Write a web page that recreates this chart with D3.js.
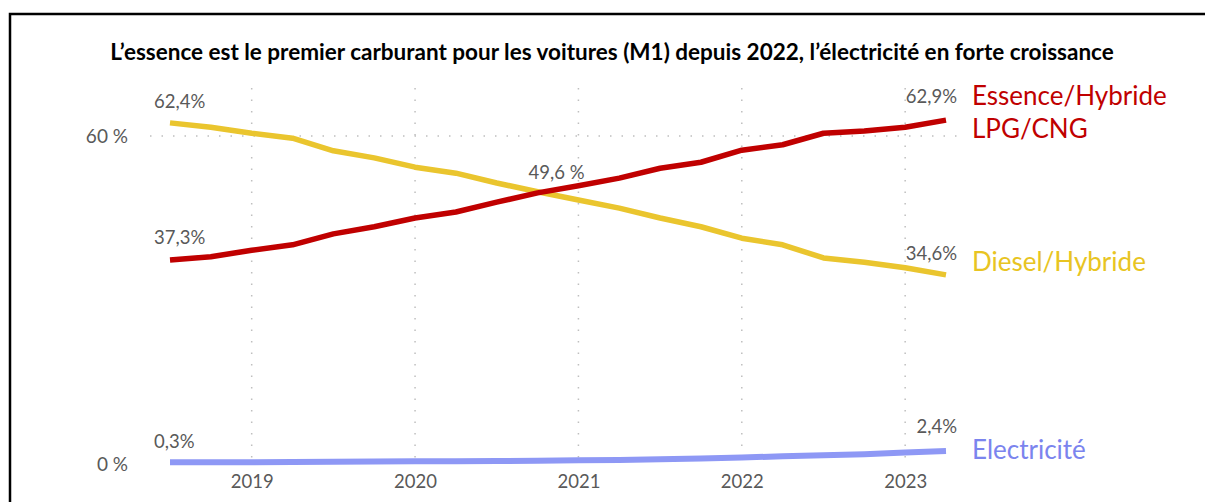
<!DOCTYPE html>
<html>
<head>
<meta charset="utf-8">
<script src="https://cdn.jsdelivr.net/npm/d3@7"></script>
<style>
  body { margin: 0; background: #fff; }
  svg { display: block; }
</style>
</head>
<body>
<svg id="chart"></svg>
<script>
// quarters, mid-2018 to mid-2023
const quarters = ['2018T3','2018T4','2019T1','2019T2','2019T3','2019T4','2020T1','2020T2','2020T3','2020T4',
                  '2021T1','2021T2','2021T3','2021T4','2022T1','2022T2','2022T3','2022T4','2023T1','2023T2'];
const essence = [37.3, 37.9, 39.1, 40.1, 42.1, 43.4, 45.0, 46.1, 47.9, 49.6, 50.9, 52.3, 54.1, 55.2, 57.4, 58.4, 60.5, 60.9, 61.6, 62.9];
const diesel  = [62.4, 61.6, 60.5, 59.6, 57.3, 56.0, 54.3, 53.2, 51.4, 49.8, 48.3, 46.8, 45.0, 43.4, 41.3, 40.1, 37.7, 36.9, 35.9, 34.6];
const electricite = [0.3, 0.3, 0.3, 0.35, 0.4, 0.45, 0.5, 0.5, 0.55, 0.6, 0.7, 0.75, 0.85, 1.0, 1.2, 1.4, 1.6, 1.8, 2.1, 2.4];
const yearTicks = ['2019T1','2020T1','2021T1','2022T1','2023T1'];
const yTicks = [0, 60];

const width = 1205;
const height = 502;
const font = 'Lato, "Open Sans", sans-serif';
const grey = '#595959';

const svg = d3.select('#chart')
  .attr('width', width)
  .attr('height', height)
  .style('font-family', font);

// frame
svg.append('rect')
  .attr('x', 10).attr('y', 14)
  .attr('width', 1400).attr('height', 700)
  .attr('fill', 'none')
  .attr('stroke', '#000')
  .attr('stroke-width', 2.5);

const x = d3.scalePoint()
  .domain(quarters)
  .range([170, 946]);

const y = d3.scaleLinear()
  .domain([0, 60])
  .range([464, 136]);

// vertical gridlines at years
svg.append('g')
  .selectAll('line')
  .data(yearTicks)
  .join('line')
  .attr('x1', d => x(d)).attr('x2', d => x(d))
  .attr('y1', 88).attr('y2', y(0) + 1)
  .attr('stroke', '#bfbfbf')
  .attr('stroke-width', 1.5)
  .attr('stroke-dasharray', '1.5,10');

// horizontal gridline at 60 %
svg.append('line')
  .attr('x1', 150).attr('x2', 960)
  .attr('y1', y(60)).attr('y2', y(60))
  .attr('stroke', '#bfbfbf')
  .attr('stroke-width', 1.5)
  .attr('stroke-dasharray', '1.5,10');

// y axis labels
const yAxis = svg.append('g')
  .attr('transform', 'translate(128,0)')
  .call(d3.axisLeft(y).tickValues(yTicks).tickSize(0).tickPadding(0).tickFormat(d => d + ' %'));
yAxis.select('.domain').remove();
yAxis.selectAll('text')
  .attr('font-family', font)
  .attr('font-size', '19px')
  .attr('fill', grey);

// x axis labels
const xAxis = svg.append('g')
  .attr('transform', 'translate(0,475)')
  .call(d3.axisBottom(x).tickValues(yearTicks).tickSize(0).tickPadding(0).tickFormat(d => d.slice(0, 4)));
xAxis.select('.domain').remove();
xAxis.selectAll('text')
  .attr('font-family', font)
  .attr('font-size', '18.5px')
  .attr('fill', grey);

const line = d3.line()
  .x((d, i) => x(quarters[i]))
  .y(d => y(d));

const series = [
  { values: diesel, color: '#eac52e', width: 5.5 },
  { values: essence, color: '#c00000', width: 5.5 },
  { values: electricite, color: '#8e98f5', width: 6 }
];

svg.selectAll('.serie')
  .data(series)
  .join('path')
  .attr('class', 'serie')
  .attr('d', d => line(d.values))
  .attr('fill', 'none')
  .attr('stroke', d => d.color)
  .attr('stroke-width', d => d.width)
  .attr('stroke-linejoin', 'round');

// value labels
const fmt = v => v.toFixed(1).replace('.', ',') + '%';
const first = quarters[0];
const last = quarters[quarters.length - 1];
const n = quarters.length - 1;

const valueLabels = [
  { x: x(first) - 16, y: y(diesel[0]) - 15, anchor: 'start', text: fmt(diesel[0]) },
  { x: x(first) - 16, y: y(essence[0]) - 16, anchor: 'start', text: fmt(essence[0]) },
  { x: x(first) - 16, y: y(electricite[0]) - 14, anchor: 'start', text: fmt(electricite[0]) },
  { x: x(last) + 11, y: y(essence[n]) - 17, anchor: 'end', text: fmt(essence[n]) },
  { x: x(last) + 11, y: y(diesel[n]) - 15, anchor: 'end', text: fmt(diesel[n]) },
  { x: x(last) + 11, y: y(electricite[n]) - 18, anchor: 'end', text: fmt(electricite[n]) },
  { x: x('2020T4') + 19, y: y(essence[9]) - 14, anchor: 'middle', text: essence[9].toFixed(1).replace('.', ',') + ' %' }
];

svg.append('g')
  .selectAll('text')
  .data(valueLabels)
  .join('text')
  .attr('x', d => d.x)
  .attr('y', d => d.y)
  .attr('text-anchor', d => d.anchor)
  .attr('font-size', '18.5px')
  .attr('fill', grey)
  .text(d => d.text);

// series names
const names = [
  { text: 'Essence/Hybride', y: 105, color: '#c00000' },
  { text: 'LPG/CNG', y: 138, color: '#c00000' },
  { text: 'Diesel/Hybride', y: 271, color: '#e8c422' },
  { text: 'Electricité', y: 459, color: '#7b84ee' }
];

svg.append('g')
  .selectAll('text')
  .data(names)
  .join('text')
  .attr('x', 972)
  .attr('y', d => d.y)
  .attr('font-size', '26px')
  .attr('fill', d => d.color)
  .text(d => d.text);

// title
svg.append('text')
  .attr('x', 612)
  .attr('y', 60)
  .attr('text-anchor', 'middle')
  .attr('font-size', '22.5px')
  .attr('font-weight', 'bold')
  .attr('fill', '#000')
  .text('L’essence est le premier carburant pour les voitures (M1) depuis 2022, l’électricité en forte croissance');
</script>
</body>
</html>
